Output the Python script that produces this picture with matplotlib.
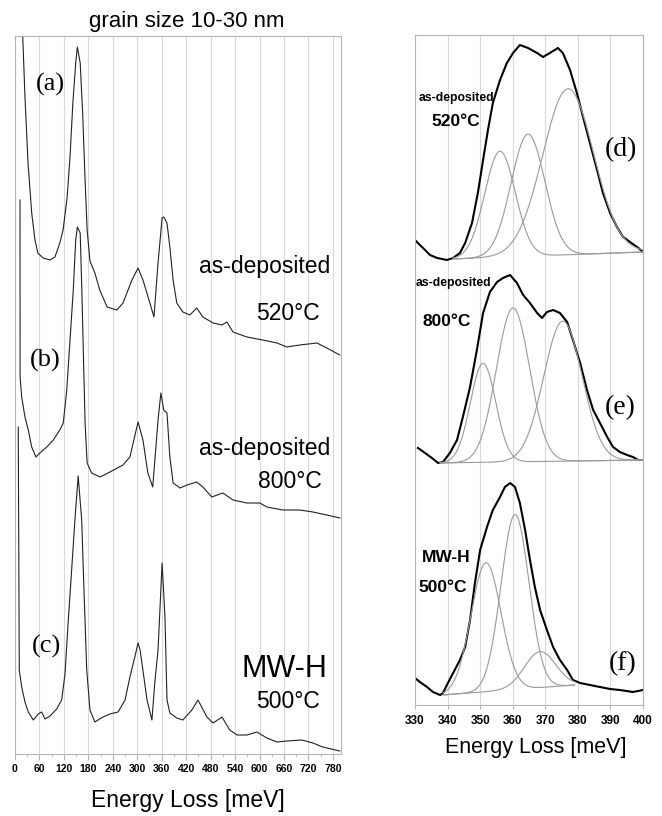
import numpy as np
import matplotlib.pyplot as plt

# ---------------------------------------------------------------
# LEFT PANEL: full spectra (energy loss in meV, intensity in a.u.)
a_x = [18, 19, 24.5, 32, 41, 49, 56, 69, 86, 98, 110, 118, 128, 135, 142, 149, 153, 160, 166, 172,
       177, 184, 196, 208, 226, 250, 265, 287, 302, 314, 331, 341, 351, 361, 365, 373, 380, 388, 397, 412,
       429, 446, 461, 486, 508, 520, 535, 569, 608, 643, 667, 699, 741, 765, 797]
a_y = [735, 717, 657, 591, 541, 514, 501, 496, 494, 497, 511, 524, 557, 597, 651, 691, 707, 691, 641, 574,
       524, 493, 481, 464, 447, 444, 451, 474, 486, 474, 451, 437, 491, 536, 537, 531, 507, 474, 451, 442,
       439, 446, 437, 431, 429, 432, 422, 417, 414, 411, 407, 409, 411, 406, 399]

b_x = [12.3, 12.5, 16.4, 24.5, 32.6, 41, 51.5, 61, 78, 94, 110, 118.5, 127, 135, 143, 149, 153, 160, 164, 168,
       172, 177, 188, 209, 233, 265, 282, 302, 314, 326, 338, 351, 358, 365, 373, 380, 388, 405, 422, 446,
       461, 483, 510, 535, 569, 601, 618, 657, 699, 731, 765, 797]
b_y = [554, 377, 357, 337, 324, 307, 297, 301, 307, 314, 324, 331, 364, 414, 464, 514, 527, 521, 464, 397,
       331, 291, 281, 277, 282, 289, 297, 332, 314, 281, 267, 334, 361, 344, 341, 297, 271, 266, 269, 272,
       267, 257, 261, 254, 251, 251, 247, 244, 244, 242, 239, 236]

c_x = [8, 10.5, 16.4, 24.5, 32.6, 45, 57, 65.5, 73.6, 86, 102, 114.6, 122.7, 130.8, 139, 147, 155, 163.7, 169, 176,
       184, 196, 216, 233, 253, 270, 282, 294, 302, 307, 324, 336, 343, 351, 361, 368, 373, 380, 397, 412,
       434, 449, 471, 486, 508, 527, 545, 569, 594, 618, 643, 667, 704, 731, 755, 797]
c_y = [327, 84, 67, 52, 42, 34, 40, 42, 35, 38, 45, 54, 80, 134, 184, 234, 278, 234, 167, 84,
       44, 32, 37, 40, 42, 54, 77, 97, 111, 104, 54, 34, 71, 104, 191, 137, 54, 41, 36, 34,
       44, 54, 37, 31, 37, 24, 19, 19, 22, 16, 12, 13, 14, 11, 7, 3]

# RIGHT PANEL: zoom 330-400 meV, measured spectra
d_x = [330, 331.5, 333.1, 334.6, 336.8, 339.8, 341.7, 343.8, 345.4, 347.5, 349.3, 350.9, 352.4, 353.9,
       356.1, 358.2, 360.1, 362.2, 364.7, 367.5, 369.3, 371.4, 373.9, 375.4, 377.6, 379.7, 381.6,
       383.7, 385.9, 387.7, 389.9, 392.0, 393.9, 396.0, 398.2, 400]
d_y = [465, 460, 455, 450, 447, 445, 447, 452, 462, 482, 512, 545, 575, 602,
       625, 642, 652, 660, 657, 652, 648, 652, 657, 652, 635, 612, 588,
       562, 535, 512, 492, 478, 468, 463, 458, 453]

e_x = [330.9, 333.1, 335.2, 337.1, 338.6, 340.7, 342.9, 344.7, 346.9, 349.0, 350.9, 353.0, 355.2, 357.0,
       359.2, 361.3, 363.2, 365.3, 367.5, 369.0, 370.5, 372.4, 374.5, 376.7, 378.5, 380.7, 382.8,
       384.7, 386.8, 389.0, 390.8, 392.9, 395.1, 396.9, 398.5, 400]
e_y = [257, 252, 247, 242, 243, 252, 265, 288, 318, 355, 392, 413, 423, 427,
       430, 422, 410, 402, 392, 387, 393, 395, 392, 383, 365, 342, 315,
       295, 282, 268, 258, 253, 250, 248, 245, 245]

f_x = [330, 331.5, 333.7, 335.5, 337.7, 338.6, 340.1, 341.7, 343.8, 345.4, 346.9, 348.4, 350.0, 352.1,
       353.9, 356.1, 357.6, 359.2, 360.7, 362.2, 363.8, 365.3, 366.8, 368.4, 370.5, 372.4, 374.5,
       376.7, 378.5, 380.7, 383.7, 386.8, 389.9, 392.9, 396.9, 400]
f_y = [27, 23, 18, 13, 10, 12, 22, 32, 45, 58, 85, 122, 155, 178,
       195, 208, 218, 222, 218, 202, 175, 145, 118, 95, 75, 58, 45,
       35, 25, 22, 20, 18, 16, 15, 13, 15]

# fitted components: centre (meV), height, sigma (meV); linear baseline (x0, y0, x1, y1)
d_fit = [(356.1, 106, 4.7), (364.7, 122, 5.2), (377.0, 166, 7.8)]
d_base = (341.7, 446, 400, 453)
e_fit = [(350.9, 99, 3.9), (360.1, 154, 5.1), (375.4, 140, 5.9)]
e_base = (337.7, 242, 400, 245)
f_fit = [(351.8, 129, 4.6), (360.7, 175, 4.3), (368.4, 36, 4.8)]
f_base = (338.6, 10, 379.0, 20)

sans = 'Liberation Sans'
serif = 'Liberation Serif'
gridc = '#d9d9d9'
spinec = '#b5b5b5'

fig = plt.figure(figsize=(6.62, 8.16), dpi=100)

# ---------------------------------------------------------------
# left panel
ax1 = fig.add_axes([15/662, 62/816, 326/662, 718/816])
for xs, ys in [(a_x, a_y), (b_x, b_y), (c_x, c_y)]:
    ax1.plot(xs, ys, color='#222222', lw=0.8)
ax1.set_xlim(0, 800)
ax1.set_ylim(0, 718)
ax1.set_xticks(np.arange(0, 781, 60))
ax1.set_xticks(np.arange(30, 800, 60), minor=True)
ax1.set_yticks([])
ax1.grid(axis='x', color=gridc, lw=0.8)
ax1.tick_params(axis='x', which='major', length=4, color=spinec, pad=3, labelsize=7.5)
ax1.tick_params(axis='x', which='minor', length=2.5, color=spinec)
for lab in ax1.get_xticklabels():
    lab.set_fontweight('bold')
    lab.set_family(sans)
for s in ax1.spines.values():
    s.set_color(spinec)

ax1.text(86, 670, '(a)', family=serif, fontsize=19, ha='center', va='center')
ax1.text(74, 394, '(b)', family=serif, fontsize=19, ha='center', va='center')
ax1.text(78, 108, '(c)', family=serif, fontsize=19, ha='center', va='center')
ax1.text(613, 488, 'as-deposited', family=sans, fontsize=16.5, ha='center', va='center')
ax1.text(670, 440, '520°C', family=sans, fontsize=16.5, ha='center', va='center')
ax1.text(613, 305, 'as-deposited', family=sans, fontsize=16.5, ha='center', va='center')
ax1.text(675, 272, '800°C', family=sans, fontsize=16.5, ha='center', va='center')
ax1.text(660, 85, 'MW-H', family=sans, fontsize=22, ha='center', va='center')
ax1.text(670, 52, '500°C', family=sans, fontsize=16.5, ha='center', va='center')

# ---------------------------------------------------------------
# right panel
ax2 = fig.add_axes([415/662, 111/816, 228/662, 670/816])
for xs, ys in [(d_x, d_y), (e_x, e_y), (f_x, f_y)]:
    ax2.plot(xs, ys, color='black', lw=1.5)
for fit, base in [(d_fit, d_base), (e_fit, e_base), (f_fit, f_base)]:
    x0, y0, x1, y1 = base
    xx = np.linspace(x0, x1, 300)
    bl = y0 + (y1 - y0) * (xx - x0) / (x1 - x0)
    for c, h, s in fit:
        ax2.plot(xx, bl + h * np.exp(-0.5 * ((xx - c) / s) ** 2), color='#9a9a9a', lw=0.8)
ax2.set_xlim(330, 400)
ax2.set_ylim(0, 670)
ax2.set_xticks(np.arange(330, 401, 10))
ax2.set_yticks([])
ax2.grid(axis='x', color=gridc, lw=0.8)
ax2.tick_params(axis='x', length=3, color=spinec, pad=4, labelsize=8.5)
for lab in ax2.get_xticklabels():
    lab.set_fontweight('bold')
    lab.set_family(sans)
for s in ax2.spines.values():
    s.set_color(spinec)

ax2.text(342.6, 607, 'as-deposited', family=sans, fontsize=8.8, weight='bold', ha='center', va='center')
ax2.text(342.6, 583, '520°C', family=sans, fontsize=12.5, weight='bold', ha='center', va='center')
ax2.text(393.2, 555, '(d)', family=serif, fontsize=20, ha='center', va='center')
ax2.text(341.7, 422, 'as-deposited', family=sans, fontsize=8.8, weight='bold', ha='center', va='center')
ax2.text(339.8, 384, '800°C', family=sans, fontsize=12.5, weight='bold', ha='center', va='center')
ax2.text(392.9, 297, '(e)', family=serif, fontsize=20, ha='center', va='center')
ax2.text(339.5, 147, 'MW-H', family=sans, fontsize=12.5, weight='bold', ha='center', va='center')
ax2.text(338.6, 118, '500°C', family=sans, fontsize=12.5, weight='bold', ha='center', va='center')
ax2.text(393.6, 41, '(f)', family=serif, fontsize=20, ha='center', va='center')

# titles / axis labels
fig.text(187/662, 1 - 21/816, 'grain size 10-30 nm', family=sans, fontsize=16, ha='center', va='center')
fig.text(188/662, 1 - 801/816, 'Energy Loss [meV]', family=sans, fontsize=16.5, ha='center', va='center')
fig.text(536/662, 1 - 748/816, 'Energy Loss [meV]', family=sans, fontsize=15.5, ha='center', va='center')

fig.savefig('out.png', dpi=100)
